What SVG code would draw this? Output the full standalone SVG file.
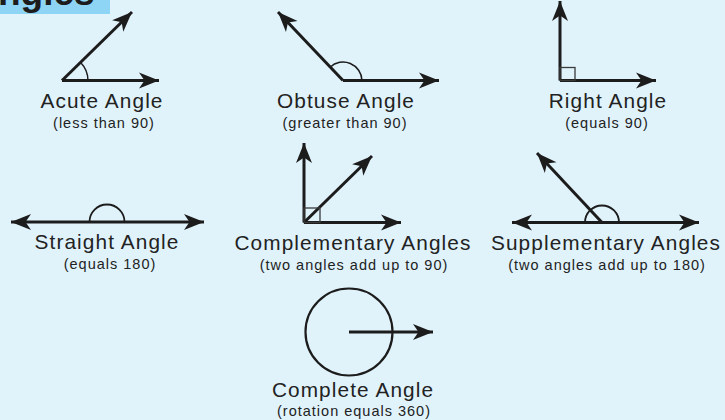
<svg xmlns="http://www.w3.org/2000/svg" width="725" height="420" viewBox="0 0 725 420">
<style>
.ln{stroke:#1c1c1c;stroke-width:3;fill:none}
.arr{marker-end:url(#ah)}
.both{marker-start:url(#ah);marker-end:url(#ah)}
.arc{stroke:#1c1c1c;stroke-width:1.5;fill:none}
.sq{stroke:#3a3a3a;stroke-width:1.3;fill:none}
.t{font-family:"Liberation Sans",Arial,sans-serif;font-size:20.8px;letter-spacing:1.1px;fill:#222;text-anchor:middle}
.s{font-family:"Liberation Sans",Arial,sans-serif;font-size:14.5px;letter-spacing:1px;fill:#222;text-anchor:middle}
</style>
<defs>
<marker id="ah" markerUnits="userSpaceOnUse" markerWidth="24" markerHeight="20" refX="0" refY="0" orient="auto-start-reverse" overflow="visible">
<path d="M0,0 L-20,-8 L-14.5,0 L-20,8 Z" fill="#1c1c1c"/>
</marker>
</defs>
<rect width="725" height="420" fill="#e0f3fb"/>
<g id="title">
<rect x="0" y="0" width="110" height="14" fill="#8dd4f5"/>
<text x="-2" y="5" font-family="Liberation Sans,Arial,sans-serif" font-weight="bold" font-size="37" fill="#1c1c1c">ngles</text>
</g>
<g id="connectors">
<line class="ln arr" x1="62" y1="80.5" x2="159" y2="80.5"/>
<line class="ln arr" x1="62" y1="80.5" x2="132" y2="12"/>
<line class="ln arr" x1="343" y1="80.5" x2="439" y2="80.5"/>
<line class="ln arr" x1="343" y1="80.5" x2="278" y2="12"/>
<line class="ln arr" x1="560" y1="80.5" x2="656" y2="80.5"/>
<line class="ln arr" x1="560" y1="80.5" x2="560" y2="1"/>
<line class="ln both" x1="11" y1="222" x2="204" y2="222"/>
<line class="ln arr" x1="304" y1="222.5" x2="401" y2="222.5"/>
<line class="ln arr" x1="304" y1="222.5" x2="304" y2="143"/>
<line class="ln arr" x1="304" y1="222.5" x2="372" y2="156"/>
<line class="ln both" x1="512" y1="222.5" x2="699" y2="222.5"/>
<line class="ln arr" x1="602" y1="222.5" x2="537" y2="153"/>
<line class="ln arr" x1="349" y1="332" x2="433" y2="332"/>
</g>
<g id="acute">
<path class="arc" d="M80.6,62.5 A26,26 0 0 1 88,80.5"/>
<text class="t" x="102" y="108">Acute Angle</text>
<text class="s" x="104" y="128">(less than 90)</text>
</g>
<g id="obtuse">
<path class="arc" d="M330,67.2 A19,19 0 0 1 362,80.5"/>
<text class="t" x="346" y="108">Obtuse Angle</text>
<text class="s" x="345" y="128">(greater than 90)</text>
</g>
<g id="right">
<rect class="sq" x="560" y="67.5" width="15" height="13"/>
<text class="t" x="608" y="108">Right Angle</text>
<text class="s" x="607" y="128">(equals 90)</text>
</g>
<g id="straight">
<path class="arc" style="stroke-width:1.8" d="M89.5,222 A17.5,17.5 0 0 1 124.5,222"/>
<text class="t" x="107" y="249">Straight Angle</text>
<text class="s" x="110" y="269">(equals 180)</text>
</g>
<g id="complementary">
<rect class="sq" x="304" y="208" width="16" height="14.5"/>
<text class="t" x="353" y="250">Complementary Angles</text>
<text class="s" x="354" y="270">(two angles add up to 90)</text>
</g>
<g id="supplementary">
<path class="arc" style="stroke-width:1.8" d="M585,222.5 A17,17 0 0 1 619,222.5"/>
<text class="t" x="606" y="250">Supplementary Angles</text>
<text class="s" x="607" y="270">(two angles add up to 180)</text>
</g>
<g id="complete">
<circle cx="349" cy="332" r="43.5" fill="none" stroke="#1c1c1c" stroke-width="2.2"/>
<text class="t" x="353" y="397">Complete Angle</text>
<text class="s" x="354" y="416">(rotation equals 360)</text>
</g>
</svg>
